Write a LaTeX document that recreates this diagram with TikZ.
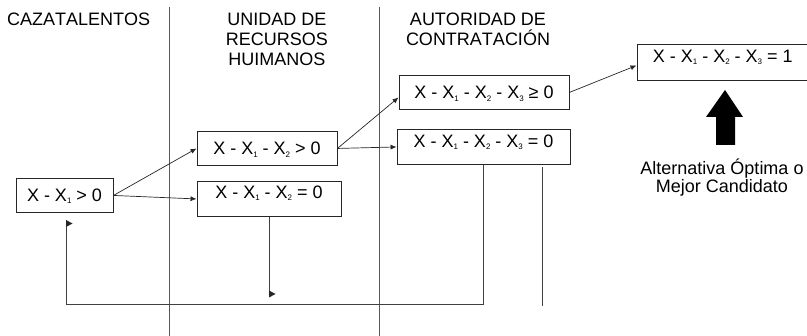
\documentclass[tikz,border=0pt]{standalone}
\usepackage{fontspec}
\setmainfont[Kerning=Off]{Liberation Sans}
\usetikzlibrary{arrows.meta}
\newcommand{\sbx}[1]{\raisebox{-2.5pt}{\fontsize{8}{8}\selectfont #1}}
\begin{document}
\begin{tikzpicture}[x=1pt,y=-1pt,
  font=\fontsize{18}{20}\selectfont,
  box/.style={draw=black!85, line width=0.9pt, inner xsep=0pt, inner ysep=0pt, anchor=north},
  arr/.style={-{Latex[length=6pt,width=5pt]}, line width=0.7pt, draw=black!85},
  lane/.style={draw=black!65, line width=0.9pt},
  wire/.style={draw=black!75, line width=0.9pt},
  tip/.style={fill=black!85},
  title/.style={inner sep=0pt, align=center, anchor=north}]
\useasboundingbox (0,0) rectangle (807,336);

% lane dividers
\coordinate (l1t) at (169,7);
\coordinate (l1b) at (169,336);
\coordinate (l2t) at (379,7);
\coordinate (l2b) at (379,336);
\draw[lane] (l1t) -- (l1b);
\draw[lane] (l2t) -- (l2b);

% titles
\node[inner sep=0pt, anchor=base west] (t1) at (7,26) {CAZATALENTOS};
\node[title] (t2) at (277,13.1) {UNIDAD DE\\RECURSOS\\HUIMANOS};
\node[title] (t3) at (478,13.1) {AUTORIDAD DE\\CONTRATACIÓN};

% boxes
\node[box, minimum width=97pt, text height=23pt, text depth=11pt] (A) at (64.5,178)
  {X - X\sbx{1} > 0};
\node[box, minimum width=140pt, text height=23.5pt, text depth=10.5pt] (B) at (267,131)
  {X - X\sbx{1} - X\sbx{2} > 0};
\node[box, minimum width=144pt, text height=17pt, text depth=18pt] (C) at (269,181)
  {X - X\sbx{1} - X\sbx{2} = 0};
\node[box, minimum width=170pt, text height=23.5pt, text depth=10.5pt] (D) at (484,75)
  {X - X\sbx{1} - X\sbx{2} - X\sbx{3} ≥ 0};
\node[box, minimum width=173pt, text height=18pt, text depth=17pt] (E) at (483.5,129)
  {X - X\sbx{1} - X\sbx{2} - X\sbx{3} = 0};
\node[box, minimum width=171.5pt, text height=18pt, text depth=18pt] (F) at (722.75,44)
  {X - X\sbx{1} - X\sbx{2} - X\sbx{3} = 1};

% big arrow
\fill[black] (725,90) -- (743,117) -- (735,117) -- (735,145) -- (716,145) -- (716,117) -- (706,117) -- cycle;
\node[title, font=\fontsize{18}{16}\selectfont] (alt) at (722,159.1) {Alternativa Óptima o\\Mejor Candidato};

% connectors
\draw[arr] (A.east) -- (B.west);
\draw[arr] (A.east) -- (C.west);
\draw[arr] (B.east) -- ([yshift=-5pt]D.west);
\draw[arr] (B.east) -- (E.west);
\draw[arr] (D.east) -- ([yshift=-3pt]F.west);

% down line from C
\coordinate (c1) at (269,294);
\draw[wire] (C.south) -- (c1);
\fill[tip] ([yshift=3.5pt]c1) -- ([xshift=6.5pt]c1) -- ([yshift=-3.5pt]c1) -- cycle;

% loop back from E
\coordinate (lp1) at (483.5,304);
\coordinate (lp2) at (66,304);
\coordinate (lp3) at (66,220);
\coordinate (lp4) at (66,223.5);
\draw[wire] (E.south) -- (lp1) -- (lp2) -- (lp3);
\fill[tip] ([yshift=3.5pt]lp4) -- ([xshift=6.5pt]lp4) -- ([yshift=-3.5pt]lp4) -- cycle;

% extra vertical line
\coordinate (v1) at (542,167);
\coordinate (v2) at (542,306);
\draw[wire] (v1) -- (v2);
\end{tikzpicture}
\end{document}
